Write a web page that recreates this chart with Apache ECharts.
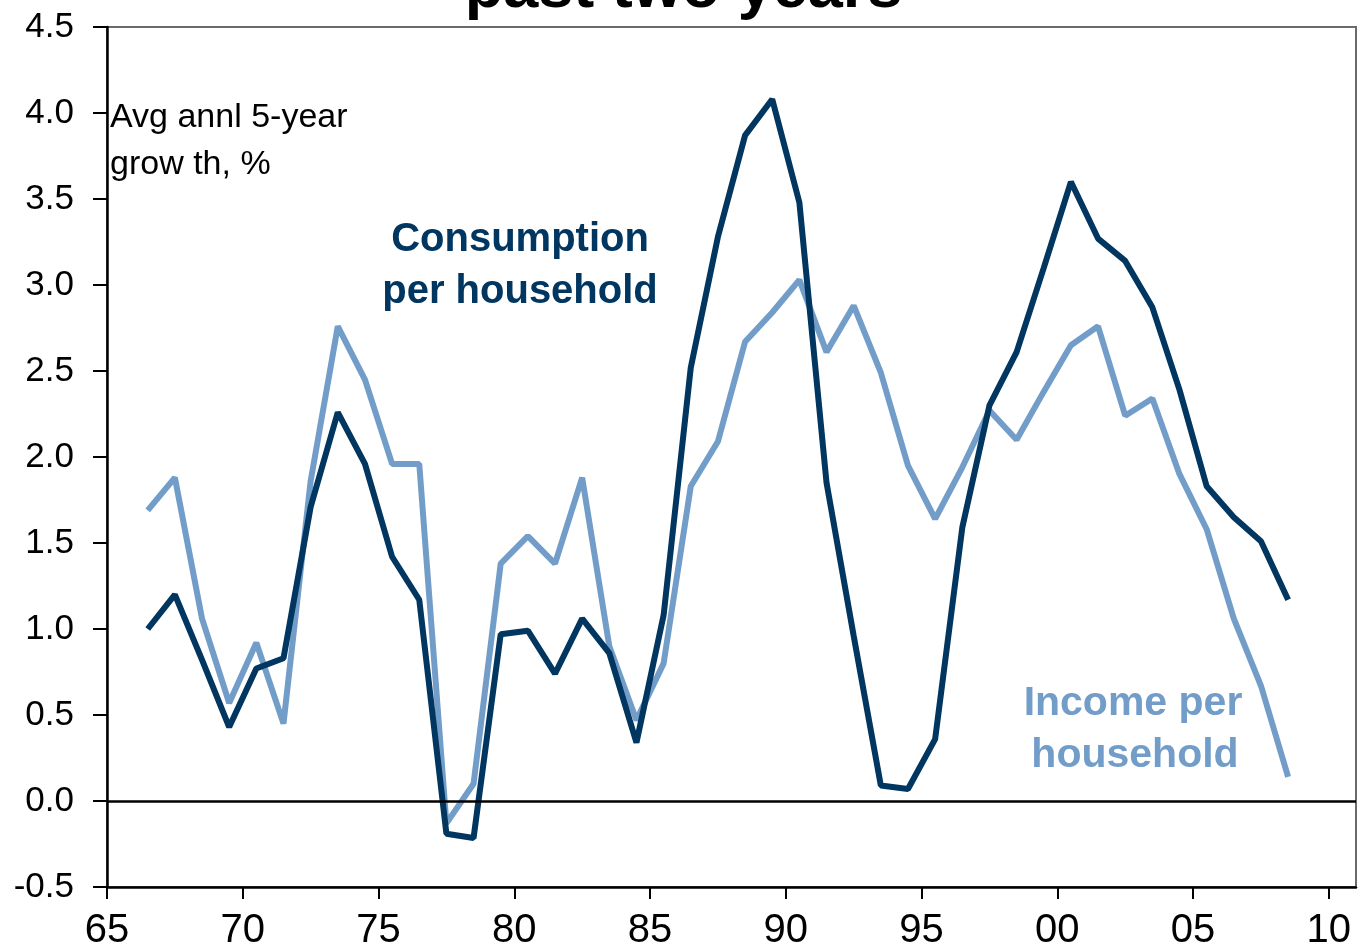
<!DOCTYPE html>
<html>
<head>
<meta charset="utf-8">
<script src="https://cdn.jsdelivr.net/npm/echarts@6/dist/echarts.min.js"></script>
<style>
  html, body { margin: 0; padding: 0; background: #fff; }
  #chart { width: 1367px; height: 951px; }
</style>
</head>
<body>
<div id="chart"></div>
<script>
// mid-year points, avg annual 5-year growth (%)
const years = [
  1966.5, 1967.5, 1968.5, 1969.5, 1970.5, 1971.5, 1972.5, 1973.5, 1974.5, 1975.5,
  1976.5, 1977.5, 1978.5, 1979.5, 1980.5, 1981.5, 1982.5, 1983.5, 1984.5, 1985.5,
  1986.5, 1987.5, 1988.5, 1989.5, 1990.5, 1991.5, 1992.5, 1993.5, 1994.5, 1995.5,
  1996.5, 1997.5, 1998.5, 1999.5, 2000.5, 2001.5, 2002.5, 2003.5, 2004.5, 2005.5,
  2006.5, 2007.5, 2008.5
];
const consumption = [
  1.00, 1.20, 0.82, 0.43, 0.77, 0.83, 1.71, 2.26, 1.96, 1.42,
  1.17, -0.19, -0.215, 0.97, 0.99, 0.74, 1.06, 0.86, 0.34, 1.08,
  2.52, 3.28, 3.87, 4.08, 3.48, 1.85, 0.96, 0.09, 0.07, 0.36,
  1.59, 2.30, 2.61, 3.10, 3.60, 3.27, 3.14, 2.87, 2.39, 1.83,
  1.65, 1.51, 1.17
];
const income = [
  1.69, 1.88, 1.06, 0.57, 0.92, 0.45, 1.86, 2.76, 2.45, 1.96,
  1.96, -0.13, 0.10, 1.38, 1.54, 1.38, 1.88, 0.90, 0.47, 0.80,
  1.83, 2.09, 2.67, 2.84, 3.03, 2.61, 2.88, 2.49, 1.95, 1.64,
  1.94, 2.27, 2.10, 2.38, 2.65, 2.76, 2.24, 2.34, 1.90, 1.58,
  1.06, 0.67, 0.14
];
const xTicks = [1965, 1970, 1975, 1980, 1985, 1990, 1995, 2000, 2005, 2010];

const DARK = '#003660';
const LIGHT = '#739DC9';

const chart = echarts.init(document.getElementById('chart'));

const pair = (ys) => years.map((y, i) => [y, ys[i]]);

chart.setOption({
  animation: false,
  backgroundColor: '#fff',
  grid: {
    left: 107, right: 11, top: 27, bottom: 61,
    show: true, borderColor: '#6b6b6b', borderWidth: 2
  },
  xAxis: {
    type: 'value',
    min: 1965,
    max: 2011,
    axisLine: { onZero: false, lineStyle: { color: '#000', width: 2.5 } },
    axisTick: { show: true, inside: false, length: 12, customValues: xTicks, lineStyle: { color: '#000', width: 2 } },
    axisLabel: {
      customValues: xTicks,
      margin: 24,
      color: '#000',
      fontFamily: 'Liberation Sans',
      fontSize: 40,
      formatter: (v) => String(v).slice(2)
    },
    splitLine: { show: false }
  },
  yAxis: {
    type: 'value',
    min: -0.5,
    max: 4.5,
    interval: 0.5,
    axisLine: { show: true, lineStyle: { color: '#000', width: 2.5 } },
    axisTick: { show: true, inside: false, length: 14, lineStyle: { color: '#000', width: 2 } },
    axisLabel: {
      margin: 33,
      color: '#000',
      fontFamily: 'Liberation Sans',
      fontSize: 35,
      formatter: (v) => v.toFixed(1)
    },
    splitLine: { show: false }
  },
  series: [
    {
      name: 'Income per household',
      type: 'line',
      data: pair(income),
      showSymbol: false,
      lineStyle: { color: LIGHT, width: 6 },
      markLine: {
        silent: true,
        symbol: 'none',
        label: { show: false },
        lineStyle: { color: '#000', width: 2.5, type: 'solid' },
        data: [{ yAxis: 0 }]
      }
    },
    {
      name: 'Consumption per household',
      type: 'line',
      data: pair(consumption),
      showSymbol: false,
      lineStyle: { color: DARK, width: 6 }
    }
  ],
  graphic: [
    {
      type: 'text', left: 'center', top: -42,
      style: { text: 'past two years', font: 'bold 63px "Liberation Sans"', fill: '#000' }
    },
    {
      type: 'text', x: 110, y: 118,
      style: { text: 'Avg annl 5-year', font: '34px "Liberation Sans"', fill: '#000', textVerticalAlign: 'middle' }
    },
    {
      type: 'text', x: 110, y: 165,
      style: { text: 'grow th, %', font: '34px "Liberation Sans"', fill: '#000', textVerticalAlign: 'middle' }
    },
    {
      type: 'text', x: 520, y: 240,
      style: { text: 'Consumption', font: 'bold 40px "Liberation Sans"', fill: DARK, textAlign: 'center', textVerticalAlign: 'middle' }
    },
    {
      type: 'text', x: 520, y: 292,
      style: { text: 'per household', font: 'bold 40px "Liberation Sans"', fill: DARK, textAlign: 'center', textVerticalAlign: 'middle' }
    },
    {
      type: 'text', x: 1133, y: 704,
      style: { text: 'Income per', font: 'bold 41px "Liberation Sans"', fill: LIGHT, textAlign: 'center', textVerticalAlign: 'middle' }
    },
    {
      type: 'text', x: 1135, y: 756,
      style: { text: 'household', font: 'bold 41px "Liberation Sans"', fill: LIGHT, textAlign: 'center', textVerticalAlign: 'middle' }
    }
  ]
});
</script>
</body>
</html>
